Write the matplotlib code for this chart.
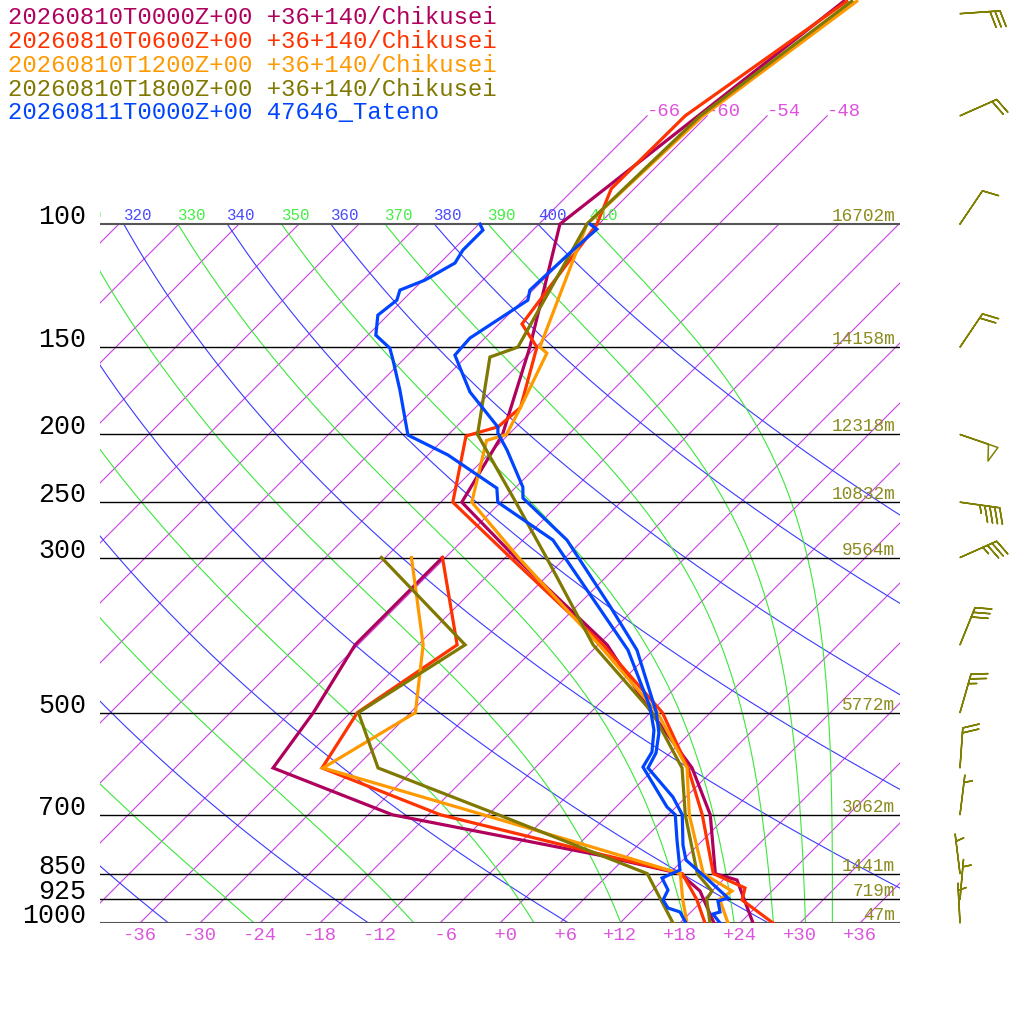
import numpy as np
import matplotlib
matplotlib.use("Agg")
import matplotlib.pyplot as plt
from matplotlib.transforms import offset_copy

# === Soundings (hPa, degC) ===
p_0000 = [48, 70, 100, 150, 200, 250, 300, 400, 500, 600, 700, 850, 868, 1000]
t_0000 = [-57.8, -60.9, -63.9, -54.6, -48.6, -45.9, -35.0, -17.1, -5.9, 3.7, 10.2, 16.6, 19.4, 25.3]
pd_0000 = [300, 400, 500, 600, 700, 800, 850, 900, 1000]
td_0000 = [-42.3, -42.3, -39.7, -38.2, -21.6, 3.2, 13.1, 16.8, 21.4]

p_0600 = [48, 70, 89, 100, 139, 150, 183, 195, 201, 250, 300, 400, 500, 600, 700, 850, 891, 927, 1000]
t_0600 = [-57.5, -62.2, -62.3, -60.2, -57.7, -53.9, -49.5, -49.8, -52.1, -46.8, -35.5, -17.5, -4.8, 3.3, 9.4, 16.4, 21.0, 21.9, 27.3]
pd_0600 = [300, 400, 500, 600, 700, 800, 850, 925, 1000]
td_0600 = [-42.3, -32.1, -35.3, -33.3, -16.8, 3.7, 13.3, 17.3, 20.5]

p_1200 = [48, 70, 100, 150, 153, 183, 200, 204, 250, 300, 400, 500, 600, 700, 850, 900, 925, 1000]
t_1200 = [-56.5, -60.4, -61.2, -53.6, -52.3, -49.5, -48.2, -49.6, -44.9, -34.7, -17.9, -5.3, 3.2, 8.1, 15.4, 20.0, 19.6, 22.8]
pd_1200 = [300, 400, 500, 600, 700, 800, 850, 925, 1000]
td_1200 = [-45.4, -35.5, -29.5, -33.2, -12.5, 5.2, 13.1, 15.9, 18.7]

p_1800 = [48, 70, 100, 150, 155, 200, 250, 300, 400, 500, 600, 700, 850, 900, 925, 1000]
t_1800 = [-57.0, -60.7, -61.2, -55.8, -57.6, -51.1, -40.5, -31.9, -18.5, -5.8, 2.7, 7.7, 14.8, 18.0, 18.3, 21.0]
pd_1800 = [300, 400, 500, 600, 700, 800, 850, 925, 1000]
td_1800 = [-48.4, -31.3, -35.2, -27.7, -11.0, 3.3, 9.8, 13.7, 17.3]

p_obs = [100, 101.7, 109, 124.3, 128.5, 145.6, 154, 173.9, 195.2, 199.1, 210.5, 237.9, 246.6,
         283.2, 352, 406.9, 500, 534.9, 571.2, 600, 660.4, 700, 773.5, 812.6, 853.8, 921,
         930.1, 964.4, 970.8, 1000]
t_obs = [-60.9, -59.7, -60.0, -60.3, -59.5, -61.5, -61.3, -56.1, -49.8, -49.2, -46.6, -41.3, -40.2,
         -31.6, -20.7, -13.6, -5.4, -3.1, -1.4, -0.7, 4.7, 7.4, 10.5, 12.3, 15.5, 20.3,
         19.6, 20.9, 20.4, 22.0]
pd_obs = [100, 102, 109, 113.7, 120.3, 124.3, 128.5, 135, 144.2, 150.5, 156.5, 172.8, 200.4, 214,
          238.7, 250, 283.2, 352, 406.9, 490.9, 529.6, 569.4, 598.2, 682.4, 700, 760.8, 839.8,
          862.2, 897, 927, 951.8, 964.4, 1000]
td_obs = [-71.9, -71.0, -71.0, -70.5, -71.8, -73.3, -72.6, -73.0, -71.2, -68.5, -67.0, -63.3, -58.0, -52.0,
          -43.8, -42.3, -33.0, -21.9, -14.5, -6.6, -3.9, -1.9, -1.3, 5.1, 6.7, 9.4, 12.7,
          11.7, 13.5, 14.0, 15.3, 16.9, 18.6]

labels = ["20260810T0000Z+00 +36+140/Chikusei",
          "20260810T0600Z+00 +36+140/Chikusei",
          "20260810T1200Z+00 +36+140/Chikusei",
          "20260810T1800Z+00 +36+140/Chikusei",
          "20260811T0000Z+00 47646_Tateno"]
colors = ["#b0005e", "#ff3300", "#ff9900", "#807800", "#0044ff"]

# === Standard levels and heights ===
level_p = [100, 150, 200, 250, 300, 500, 700, 850, 925, 1000]
level_z = ["16702m", "14158m", "12318m", "10832m", "9564m", "5772m", "3062m", "1441m", "719m", "47m"]

# === Winds (direction deg, speed) ===
wind_p = [50, 70, 100, 150, 200, 250, 300, 400, 500, 600, 700, 850, 925, 1000]
wind_dir = [86, 66, 34, 34, 109, 98, 66, 22, 16, 4, 7, 353, 5, 357]
wind_spd = [30, 20, 10, 20, 50, 45, 35, 30, 25, 20, 5, 5, 5, 5]

FONT = "Liberation Mono"
PTOP = 47.8
AX_W, AX_H = 800, 923
K = (AX_H / AX_W) * 80 / np.log(1000 / PTOP)  # 45 degree skew


def skx(t, p):
    return np.asarray(t, float) + K * np.log(1000.0 / np.asarray(p, float))


def thetae_sat(t, p):
    es = 6.112 * np.exp(17.67 * t / (t + 243.5))
    r = 622.0 * es / np.maximum(p - es, 1e-3)
    tk = t + 273.15
    return tk * (1000.0 / p) ** (0.2854 * (1 - 0.00028 * r)) * \
        np.exp((3.376 / tk - 0.00254) * r * (1 + 0.00081 * r))


def moist_line(te, p):
    lo = np.full_like(p, -160.0)
    hi = np.full_like(p, 40.0)
    with np.errstate(over="ignore", invalid="ignore"):
        for _ in range(60):
            mid = 0.5 * (lo + hi)
            big = thetae_sat(mid, p) > te
            hi = np.where(big, mid, hi)
            lo = np.where(big, lo, mid)
    return 0.5 * (lo + hi)


fig = plt.figure(figsize=(10.24, 10.24), dpi=100)
ax = fig.add_axes([100 / 1024, (1024 - AX_H) / 1024, AX_W / 1024, AX_H / 1024])
ax.set_yscale("log")
ax.set_ylim(1000, PTOP)
ax.set_xlim(-40, 40)
ax.set_axis_off()

up4 = offset_copy(ax.transData, fig=fig, y=4, units="dots")
up3 = offset_copy(ax.transData, fig=fig, y=3, units="dots")
down13 = offset_copy(ax.transData, fig=fig, y=-13, units="dots")


def theta_label(x, text, color):
    # labels left of the frame are dropped, the one straddling it is clipped
    if x < -43.5:
        return
    txt = ax.text(x, 100, text, transform=up4, color=color, fontsize=11.3, family=FONT,
                  ha="left", va="baseline", clip_on=True)
    txt.set_clip_box(ax.bbox)


# === Background lines ===
iso_c = "#c640e0"
for T in range(-120, 43, 6):
    ptop_line = 70 if -66 <= T <= -48 else 100
    ax.plot(skx([T, T], [1000, ptop_line]), [1000, ptop_line], color=iso_c, lw=0.8, zorder=1)
for T in range(-66, -47, 6):
    ax.text(skx(T, 70), 70, f"{T:d}", color="#e050e0", fontsize=13.6, family=FONT,
            ha="left", va="baseline")

pp = np.geomspace(1000, 100, 200)
for th in range(200, 401, 20):
    tt = th * (pp / 1000.0) ** 0.286 - 273.15
    ax.plot(skx(tt, pp), pp, color="#3a3aff", lw=0.8, zorder=1)
    theta_label(skx(tt[-1], 100), str(th), "#4a4aff")

for te in range(250, 411, 20):
    tt = moist_line(float(te), pp)
    ax.plot(skx(tt, pp), pp, color="#3ce63c", lw=0.8, zorder=1)
    theta_label(skx(tt[-1], 100), str(te), "#44ee44")

# === Pressure levels ===
for p, z in zip(level_p, level_z):
    edge = p in (100, 1000)
    ax.plot([-40, 40], [p, p], color="#555555" if edge else "black",
            lw=1.5 if edge else 1.0, zorder=2)
    ax.text(-41.4, p, str(p), color="black", fontsize=19.2, family=FONT,
            ha="right", va="baseline", clip_on=False)
    ax.text(39.5, p, z, transform=up3, color="#8b8b1e", fontsize=12.8, family=FONT,
            ha="right", va="baseline")

for T in range(-36, 37, 6):
    ax.text(skx(T, 1000), 1000, f"{T:+d}".rjust(3), transform=down13, color="#dd55dd",
            fontsize=13.6, family=FONT, ha="center", va="center", clip_on=False)

# === Soundings ===
series = [(p_0000, t_0000, pd_0000, td_0000),
          (p_0600, t_0600, pd_0600, td_0600),
          (p_1200, t_1200, pd_1200, td_1200),
          (p_1800, t_1800, pd_1800, td_1800),
          (p_obs, t_obs, pd_obs, td_obs)]
for (p, t, pd_, td), c in zip(series, colors):
    ax.plot(skx(t, p), p, color=c, lw=2.3, solid_joinstyle="miter", zorder=3)
    ax.plot(skx(td, pd_), pd_, color=c, lw=2.3, solid_joinstyle="miter", zorder=3)

for i, (lab, c) in enumerate(zip(labels, colors)):
    fig.text(8 / 1024, 1 - (17 + 24 * i) / 1024, lab, color=c, fontsize=17.2,
             family=FONT, ha="left", va="center")

# === Wind barbs ===
wax = fig.add_axes([900 / 1024, (1024 - AX_H) / 1024, 124 / 1024, AX_H / 1024])
wax.set_yscale("log")
wax.set_ylim(1000, PTOP)
wax.set_xlim(900, 1024)
wax.set_axis_off()
rad = np.deg2rad(wind_dir)
u = -np.array(wind_spd) * np.sin(rad)
v = -np.array(wind_spd) * np.cos(rad)
wax.barbs(np.full(len(wind_p), 960.0), wind_p, u, v, length=7.6, barbcolor="#808000",
          flagcolor="none", linewidth=1.1, clip_on=False)

fig.savefig("out.png", dpi=100, facecolor="white")
